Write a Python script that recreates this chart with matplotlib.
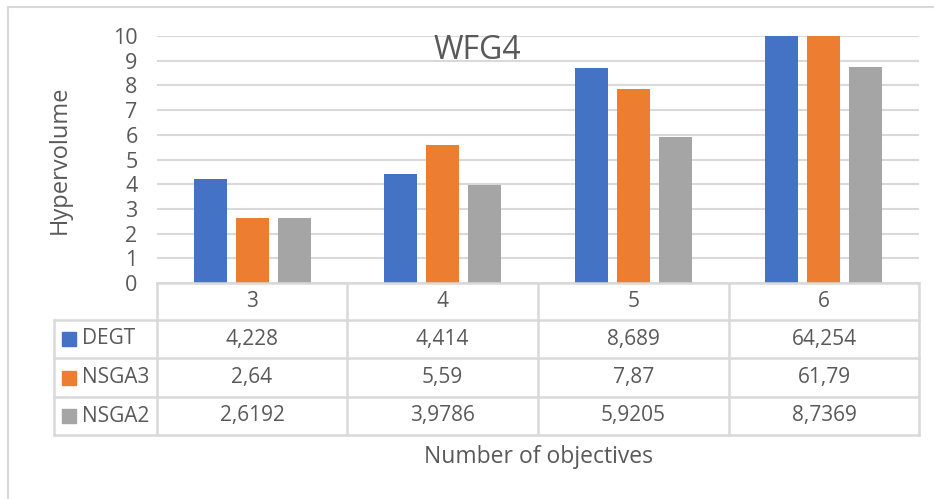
import numpy as np
import matplotlib
matplotlib.use("Agg")
import matplotlib.pyplot as plt
from matplotlib.lines import Line2D
from matplotlib.patches import Rectangle

plt.rcParams['font.family'] = ['Open Sans', 'DejaVu Sans']

# data
categories = ['3', '4', '5', '6']
series = ['DEGT', 'NSGA3', 'NSGA2']
degt = [4.228, 4.414, 8.689, 64.254]
nsga3 = [2.64, 5.59, 7.87, 61.79]
nsga2 = [2.6192, 3.9786, 5.9205, 8.7369]
labels_degt = ['4,228', '4,414', '8,689', '64,254']
labels_nsga3 = ['2,64', '5,59', '7,87', '61,79']
labels_nsga2 = ['2,6192', '3,9786', '5,9205', '8,7369']
colors = ['#4472C4', '#ED7D31', '#A5A5A5']

W, H = 934, 499
txt = '#595959'
grid = '#d9d9d9'

def fx(x):
    return x / W

def fy(y):
    return 1 - y / H

fig = plt.figure(figsize=(W / 100, H / 100), dpi=100)

# plot area in pixels
left, right, top, bottom = 157, 919, 36, 283
ax = fig.add_axes([fx(left), fy(bottom), fx(right) - fx(left), fy(top) - fy(bottom)])
ax.set_xlim(0, 4)
ax.set_ylim(0, 10)

x = np.arange(len(categories)) + 0.5
bw = 0.173
step = 0.22
for i, vals in enumerate([degt, nsga3, nsga2]):
    ax.bar(x + (i - 1) * step, vals, width=bw, color=colors[i], zorder=3)

ax.set_yticks(range(0, 11))
ax.yaxis.grid(True, color=grid, linewidth=1.5, zorder=0)
ax.set_xticks([])
for s in ax.spines.values():
    s.set_visible(False)
ax.tick_params(axis='y', length=0, labelsize=15.5, labelcolor=txt, pad=14)

fig.text(fx(60), fy(160), 'Hypervolume', rotation=90, ha='center', va='center',
         fontsize=17, color=txt)

ax.text(0.42, 0.94, 'WFG4', transform=ax.transAxes, ha='center', va='center',
        fontsize=23, color=txt, zorder=4)

# data table below the plot
def hline(y, x0, x1):
    fig.add_artist(Line2D([fx(x0), fx(x1)], [fy(y), fy(y)], color=grid, lw=1.8))

def vline(xp, y0, y1):
    fig.add_artist(Line2D([fx(xp), fx(xp)], [fy(y0), fy(y1)], color=grid, lw=1.8))

rows_y = [283, 320, 358, 397, 435]
col_x = [157, 347, 538, 729, 919]
tab_left = 54

hline(rows_y[0], left, right)
for yy in rows_y[1:]:
    hline(yy, tab_left, right)
for xx in col_x:
    vline(xx, rows_y[0], rows_y[-1])
vline(tab_left, rows_y[1], rows_y[-1])

for j, c in enumerate(categories):
    cx = (col_x[j] + col_x[j + 1]) / 2
    fig.text(fx(cx), fy((rows_y[0] + rows_y[1]) / 2), c, ha='center', va='center',
             fontsize=15, color=txt)

for i, (name, labs) in enumerate(zip(series, [labels_degt, labels_nsga3, labels_nsga2])):
    cy = (rows_y[i + 1] + rows_y[i + 2]) / 2
    fig.add_artist(Rectangle((fx(62), fy(cy + 7)), fx(14), 14 / H, color=colors[i]))
    fig.text(fx(82), fy(cy), name, ha='left', va='center', fontsize=15, color=txt)
    for j, lab in enumerate(labs):
        cx = (col_x[j] + col_x[j + 1]) / 2
        fig.text(fx(cx), fy(cy), lab, ha='center', va='center', fontsize=15, color=txt)

fig.text(fx(538), fy(457), 'Number of objectives', ha='center', va='center',
         fontsize=16.5, color=txt)

# outer chart frame
fig.add_artist(Line2D([fx(8), fx(8)], [fy(7), 0], color=grid, lw=1.5))
fig.add_artist(Line2D([fx(8), 1], [fy(7), fy(7)], color=grid, lw=1.5))

fig.savefig('out.png', dpi=100)
